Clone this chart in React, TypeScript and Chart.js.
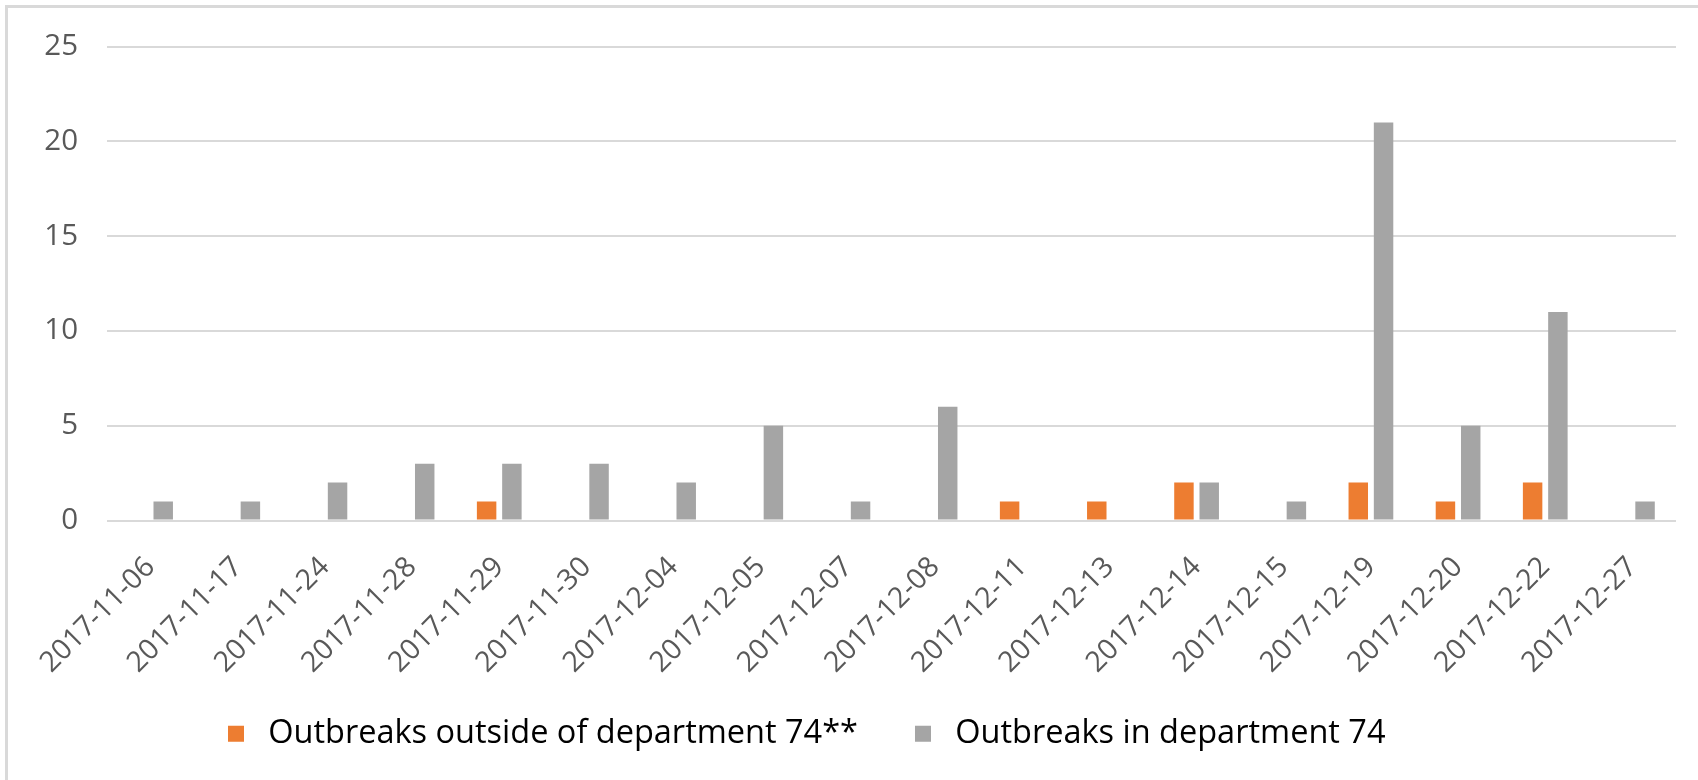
import React, { useEffect, useRef } from "react";
import { Chart, registerables } from "chart.js";

Chart.register(...registerables);

const categories = [
  "2017-11-06", "2017-11-17", "2017-11-24", "2017-11-28", "2017-11-29", "2017-11-30",
  "2017-12-04", "2017-12-05", "2017-12-07", "2017-12-08", "2017-12-11", "2017-12-13",
  "2017-12-14", "2017-12-15", "2017-12-19", "2017-12-20", "2017-12-22", "2017-12-27",
];
const outsideValues = [0, 0, 0, 0, 1, 0, 0, 0, 0, 0, 1, 1, 2, 0, 2, 1, 2, 0];
const insideValues = [1, 1, 2, 3, 3, 3, 2, 5, 1, 6, 0, 0, 2, 1, 21, 5, 11, 1];
const yTickValues = [0, 5, 10, 15, 20, 25];
const seriesLabels = ["Outbreaks outside of department 74**", "Outbreaks in department 74"];
const seriesColors = ["#ED7D31", "#A5A5A5"];

const FONT = "'Open Sans', 'Noto Sans', sans-serif";

export default function App() {
  const ref = useRef<HTMLCanvasElement | null>(null);

  useEffect(() => {
    document.body.style.margin = "0";
    const canvas = ref.current;
    if (!canvas) return;

    const legendShift = {
      id: "legendShift",
      afterLayout(chart: any) {
        const l = chart.legend;
        if (!l) return;
        const w = l.right - l.left;
        const h = l.bottom - l.top;
        l.left = 171;
        l.right = 171 + w;
        l.top = l.top - 12;
        l.bottom = l.top + h;
      },
    };

    const chart = new Chart(canvas, {
      type: "bar",
      data: {
        labels: categories,
        datasets: [
          {
            label: seriesLabels[0],
            data: outsideValues,
            backgroundColor: seriesColors[0],
            borderWidth: 0,
            categoryPercentage: 0.58,
            barPercentage: 0.77,
          },
          {
            label: seriesLabels[1],
            data: insideValues,
            backgroundColor: seriesColors[1],
            borderWidth: 0,
            categoryPercentage: 0.58,
            barPercentage: 0.77,
          },
        ],
      },
      options: {
        responsive: false,
        animation: false,
        devicePixelRatio: 1,
        layout: { padding: { left: 10, right: 22, top: 46, bottom: 8 } },
        plugins: {
          tooltip: { enabled: false },
          legend: {
            position: "bottom",
            align: "start",
            labels: {
              usePointStyle: true,
              pointStyle: "rect",
              boxWidth: 32,
              boxHeight: 16,
              padding: 49,
              color: "#000000",
              font: { family: FONT, size: 32.5 },
            },
          },
        },
        scales: {
          x: {
            grid: { display: false },
            border: { display: false },
            ticks: {
              autoSkip: false,
              minRotation: 45,
              maxRotation: 45,
              padding: 22,
              color: "#595959",
              font: { family: FONT, size: 28.5 },
            },
            afterFit(scale: any) {
              scale.height = 160;
            },
          },
          y: {
            min: 0,
            max: 25,
            border: { display: false },
            grid: { color: "#D9D9D9", lineWidth: 2, drawTicks: false },
            ticks: {
              padding: 29,
              color: "#595959",
              font: { family: FONT, size: 29.5 },
            },
            afterBuildTicks(scale: any) {
              scale.ticks = yTickValues.map((v) => ({ value: v }));
            },
            afterFit(scale: any) {
              scale.width = 97;
            },
          },
        },
      },
      plugins: [legendShift],
    });

    return () => chart.destroy();
  }, []);

  return (
    <div style={{ position: "relative", width: 1698, height: 780, overflow: "hidden", background: "#fff" }}>
      <div
        style={{
          position: "absolute",
          left: 5,
          top: 5,
          right: -10,
          bottom: -10,
          borderTop: "3px solid #D9D9D9",
          borderLeft: "3px solid #D9D9D9",
        }}
      />
      <canvas
        ref={ref}
        width={1698}
        height={780}
        style={{ position: "absolute", left: 0, top: 0, width: 1698, height: 780 }}
      />
    </div>
  );
}
